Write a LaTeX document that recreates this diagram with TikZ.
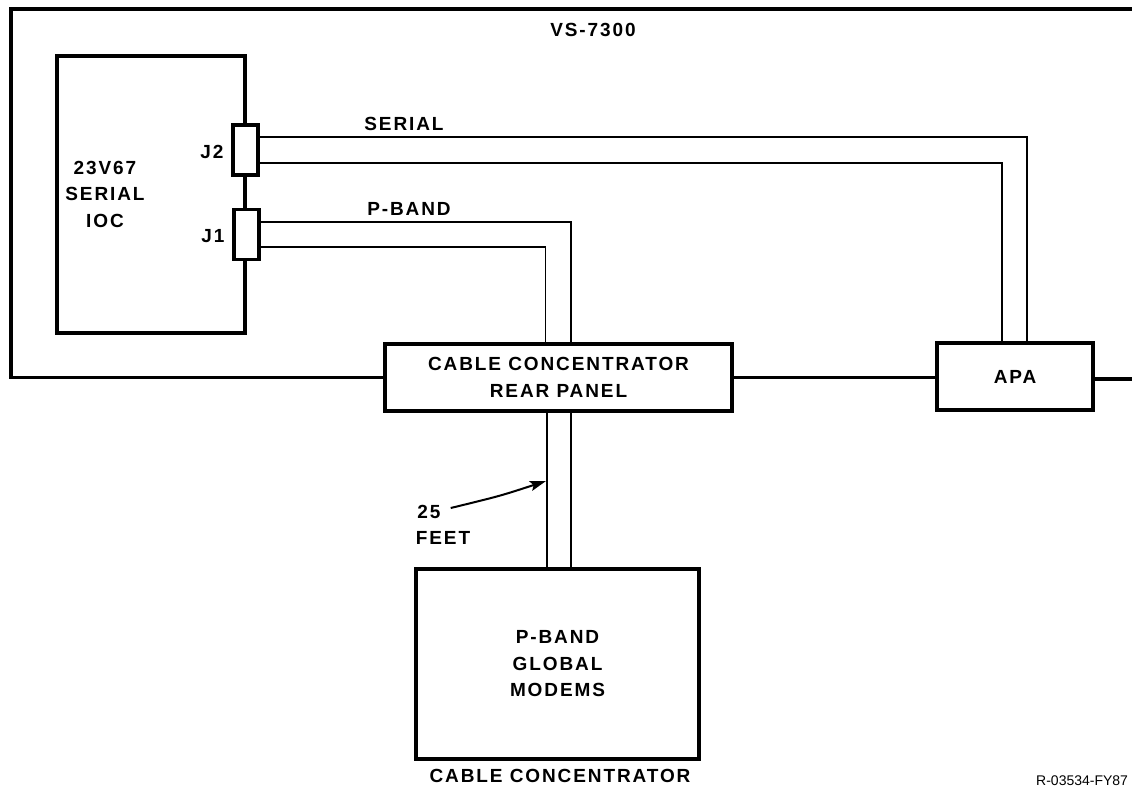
\documentclass[tikz,border=0pt]{standalone}
\usepackage{fontspec}
\usetikzlibrary{arrows.meta}
\setmainfont[LetterSpace=10]{Liberation Sans}
\newfontfamily\notefont{Liberation Sans}
\tikzset{
  unitbox/.style={draw, rectangle, line width=3.3pt, align=center, inner sep=0pt},
  plugbox/.style={unitbox, fill=white, minimum width=25pt, minimum height=50pt},
  caption/.style={align=center, inner sep=0pt, font=\bfseries\fontsize{19}{26.5}\selectfont},
  frameline/.style={line width=3.3pt},
  cable/.style={line width=1.7pt},
}
\begin{document}
\begin{tikzpicture}[>={Stealth[length=16pt,width=10pt,inset=3pt]}, x=1pt, y=-1pt]
\useasboundingbox (0,0) rectangle (1132,788);

\node[unitbox, minimum width=188pt, minimum height=277pt] (ioc) at (151,194.5) {};
\node[plugbox] (jtwo) at (245.5,150) {};
\node[plugbox] (jone) at (246.5,234.5) {};
\node[unitbox, caption, minimum width=347pt, minimum height=67pt] (rear) at (558.5,377.5) {CABLE CONCENTRATOR\\REAR PANEL};
\node[unitbox, caption, minimum width=156pt, minimum height=67pt] (apa) at (1015,376.5) {APA};
\node[unitbox, caption, minimum width=283pt, minimum height=190pt] (modems) at (557.5,664) {P-BAND\\GLOBAL\\MODEMS};

\node[caption] (vs) at (593,30) {VS-7300};
\node[caption] (ioclabel) at (105,194) {23V67\\SERIAL\\IOC};
\node[caption] (jtwolabel) at (212,152) {J2};
\node[caption] (jonelabel) at (213,236) {J1};
\node[caption] (seriallabel) at (404,124) {SERIAL};
\node[caption] (pbandlabel) at (409,209) {P-BAND};
\node[caption] (conclabel) at (560,776) {CABLE CONCENTRATOR};
\node[caption] (twentyfive) at (429,512) {25};
\node[caption] (feet) at (443,538) {FEET};
\node[inner sep=0pt, anchor=west, font=\notefont\fontsize{14}{15}\selectfont] (figno) at (1036,781) {R-03534-FY87};

\coordinate (topleft) at (11,9);
\coordinate (topright) at (1140,9);
\coordinate (rightedge) at (1140,379);
\coordinate (tip) at (546,481);

\draw[frameline] (rear.west) -| (topleft) -- (topright);
\draw[frameline] (rear.east) -- (rear.east -| apa.west);
\draw[frameline] (rightedge -| apa.east) -- (rightedge);

\draw[cable] ([yshift=13pt]jtwo.east) -| ([xshift=12pt]apa.north);
\draw[cable] ([yshift=-13pt]jtwo.east) -| ([xshift=-13pt]apa.north);
\draw[cable] ([yshift=12.5pt]jone.east) -| ([xshift=12.5pt]rear.north);
\draw[cable] ([yshift=-12.5pt]jone.east) -| ([xshift=-13pt]rear.north);
\draw[cable] ([xshift=-11.5pt]rear.south) -- ([xshift=-11.5pt]rear.south |- modems.north);
\draw[cable] ([xshift=12.5pt]rear.south) -- ([xshift=12.5pt]rear.south |- modems.north);

\draw[->, line width=2pt] (twentyfive.east) ++(10pt,4pt) .. controls (500,496) .. (tip);
\end{tikzpicture}
\end{document}
